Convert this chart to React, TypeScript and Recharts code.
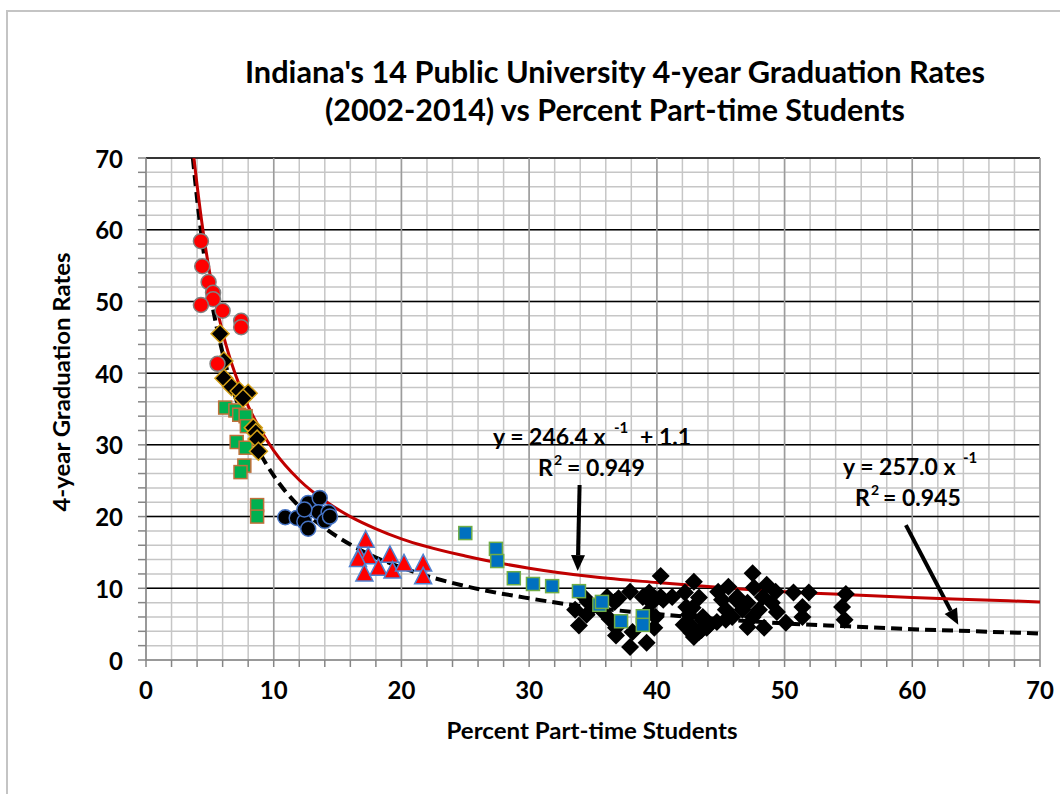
import { ScatterChart, Scatter, XAxis, YAxis, CartesianGrid, ReferenceLine } from 'recharts';

// university groups (percent part-time, 4-year grad rate)
const redCircles = [
  { x: 4.3, y: 58.4 }, { x: 4.4, y: 54.9 }, { x: 4.9, y: 52.7 }, { x: 5.25, y: 51.2 },
  { x: 5.25, y: 50.3 }, { x: 4.3, y: 49.5 }, { x: 6.0, y: 48.7 }, { x: 7.45, y: 47.3 },
  { x: 7.45, y: 46.4 }, { x: 5.6, y: 41.3 },
];
const goldDiamonds = [
  { x: 5.8, y: 45.5 }, { x: 6.1, y: 41.7 }, { x: 6.1, y: 39.3 }, { x: 6.7, y: 38.1 },
  { x: 7.3, y: 37.5 }, { x: 8.0, y: 37.2 }, { x: 7.6, y: 36.5 }, { x: 8.4, y: 32.4 },
  { x: 8.6, y: 31.7 }, { x: 8.7, y: 30.8 }, { x: 8.8, y: 29.1 },
];
const greenSquares = [
  { x: 6.2, y: 35.2 }, { x: 7.0, y: 34.8 }, { x: 7.3, y: 34.2 }, { x: 7.8, y: 34.0 },
  { x: 7.9, y: 32.6 }, { x: 7.1, y: 30.4 }, { x: 7.8, y: 29.6 }, { x: 7.7, y: 27.1 },
  { x: 7.4, y: 26.2 }, { x: 8.7, y: 21.6 }, { x: 8.7, y: 20.0 },
];
const navyCircles = [
  { x: 10.9, y: 19.9 }, { x: 11.8, y: 19.8 }, { x: 12.4, y: 19.3 }, { x: 12.7, y: 18.3 },
  { x: 12.7, y: 21.9 }, { x: 13.6, y: 22.6 }, { x: 13.5, y: 20.6 }, { x: 14.3, y: 20.6 },
  { x: 14.0, y: 19.4 }, { x: 14.4, y: 20.0 }, { x: 12.4, y: 21.0 },
];
const redTriangles = [
  { x: 17.2, y: 16.7 }, { x: 16.7, y: 14.5 }, { x: 17.4, y: 14.4 }, { x: 16.6, y: 14.0 },
  { x: 17.1, y: 12.0 }, { x: 18.2, y: 12.8 }, { x: 19.1, y: 14.6 }, { x: 19.3, y: 12.4 },
  { x: 20.2, y: 13.4 }, { x: 21.7, y: 13.4 }, { x: 21.7, y: 11.6 },
];
const blueSquares = [
  { x: 25.0, y: 17.7 }, { x: 27.4, y: 15.5 }, { x: 27.5, y: 13.8 }, { x: 28.8, y: 11.4 },
  { x: 30.3, y: 10.6 }, { x: 31.8, y: 10.3 }, { x: 33.9, y: 9.6 }, { x: 35.5, y: 7.7 },
  { x: 35.7, y: 8.1 }, { x: 37.2, y: 5.4 }, { x: 38.9, y: 6.1 }, { x: 38.9, y: 4.9 },
];
const blackDiamonds = [
  { x: 34.3, y: 8.8 }, { x: 34.6, y: 8.1 }, { x: 33.6, y: 7.0 }, { x: 34.5, y: 6.3 }, { x: 33.9, y: 4.8 },
  { x: 36.1, y: 8.8 }, { x: 36.7, y: 8.1 }, { x: 35.7, y: 6.9 }, { x: 36.3, y: 5.7 }, { x: 36.8, y: 4.5 },
  { x: 36.8, y: 3.4 }, { x: 37.9, y: 9.5 }, { x: 38.1, y: 3.9 }, { x: 37.9, y: 1.8 }, { x: 39.2, y: 2.4 },
  { x: 38.9, y: 8.8 }, { x: 39.4, y: 9.4 }, { x: 39.6, y: 8.0 }, { x: 39.3, y: 6.7 }, { x: 39.8, y: 4.5 },
  { x: 39.9, y: 6.0 }, { x: 40.3, y: 11.7 }, { x: 40.3, y: 8.8 }, { x: 41.2, y: 8.8 }, { x: 42.2, y: 9.4 },
  { x: 42.9, y: 10.9 }, { x: 42.3, y: 7.4 }, { x: 42.5, y: 6.3 }, { x: 42.1, y: 4.9 }, { x: 42.7, y: 3.8 },
  { x: 43.3, y: 8.7 }, { x: 43.6, y: 6.0 }, { x: 43.9, y: 4.5 }, { x: 43.3, y: 3.9 }, { x: 44.8, y: 9.5 },
  { x: 45.1, y: 8.4 }, { x: 45.6, y: 10.2 }, { x: 45.4, y: 7.0 }, { x: 46.2, y: 8.4 }, { x: 45.9, y: 6.0 },
  { x: 46.7, y: 7.0 }, { x: 47.5, y: 12.1 }, { x: 47.6, y: 10.1 }, { x: 48.3, y: 8.8 }, { x: 48.6, y: 10.5 },
  { x: 47.1, y: 4.6 }, { x: 48.4, y: 4.5 }, { x: 47.5, y: 6.0 }, { x: 49.3, y: 9.5 }, { x: 49.4, y: 6.7 },
  { x: 50.1, y: 5.2 }, { x: 50.7, y: 9.4 }, { x: 51.9, y: 9.4 }, { x: 51.4, y: 7.4 }, { x: 51.4, y: 6.0 },
  { x: 54.8, y: 9.2 }, { x: 54.5, y: 7.4 }, { x: 54.7, y: 5.6 }, { x: 46.3, y: 8.8 }, { x: 47.1, y: 8.0 },
  { x: 45.4, y: 5.6 }, { x: 43.6, y: 5.6 }, { x: 42.9, y: 3.2 }, { x: 43.5, y: 4.2 }, { x: 44.1, y: 4.9 },
  { x: 44.7, y: 5.3 }, { x: 42.8, y: 7.3 }, { x: 42.8, y: 4.6 }, { x: 37.0, y: 8.6 }, { x: 40.5, y: 8.4 },
  { x: 35.0, y: 7.5 }, { x: 48.0, y: 7.0 }, { x: 49.0, y: 8.0 },
];

// trend curves
const redTrend = [
  { x: 3.75, y: 70 }, { x: 4, y: 66.2 }, { x: 4.5, y: 59.4 }, { x: 5, y: 53.9 }, { x: 6, y: 45.7 },
  { x: 7, y: 39.8 }, { x: 8, y: 35.4 }, { x: 9, y: 32 }, { x: 10, y: 29.2 }, { x: 12, y: 25.1 },
  { x: 14, y: 22.2 }, { x: 16, y: 20 }, { x: 18, y: 18.3 }, { x: 20, y: 16.9 }, { x: 25, y: 14.5 },
  { x: 30, y: 12.8 }, { x: 35, y: 11.6 }, { x: 40, y: 10.8 }, { x: 45, y: 10.1 }, { x: 50, y: 9.5 },
  { x: 55, y: 9.1 }, { x: 60, y: 8.7 }, { x: 65, y: 8.4 }, { x: 70, y: 8.1 },
];
const blackTrend = [
  { x: 3.67, y: 70 }, { x: 4, y: 64.3 }, { x: 4.5, y: 57.1 }, { x: 5, y: 51.4 }, { x: 6, y: 42.8 },
  { x: 7, y: 36.7 }, { x: 8, y: 32.1 }, { x: 9, y: 28.6 }, { x: 10, y: 25.7 }, { x: 12, y: 21.4 },
  { x: 14, y: 18.4 }, { x: 16, y: 16.1 }, { x: 18, y: 14.3 }, { x: 20, y: 12.9 }, { x: 25, y: 10.3 },
  { x: 30, y: 8.6 }, { x: 35, y: 7.3 }, { x: 40, y: 6.4 }, { x: 45, y: 5.7 }, { x: 50, y: 5.1 },
  { x: 55, y: 4.7 }, { x: 60, y: 4.3 }, { x: 65, y: 4.0 }, { x: 70, y: 3.7 },
];

const minorTicks = [0, 2, 4, 6, 8, 10, 12, 14, 16, 18, 20, 22, 24, 26, 28, 30, 32, 34, 36, 38, 40, 42, 44, 46, 48, 50, 52, 54, 56, 58, 60, 62, 64, 66, 68, 70];
const majorTicks = [10, 20, 30, 40, 50, 60, 70];

const FONT = 'Lato, "Open Sans", sans-serif';

const circle = (fill: string, stroke: string) => (p: any) =>
  <circle cx={p.cx} cy={p.cy} r={7.5} fill={fill} stroke={stroke} strokeWidth={1.5} />;
const diamond = (fill: string, stroke: string) => (p: any) =>
  <path d={`M${p.cx},${p.cy - 9}L${p.cx + 9},${p.cy}L${p.cx},${p.cy + 9}L${p.cx - 9},${p.cy}Z`} fill={fill} stroke={stroke} strokeWidth={1.5} />;
const square = (fill: string, stroke: string) => (p: any) =>
  <rect x={p.cx - 6.5} y={p.cy - 6.5} width={13} height={13} fill={fill} stroke={stroke} strokeWidth={1.5} />;
const triangle = (fill: string, stroke: string) => (p: any) =>
  <path d={`M${p.cx},${p.cy - 9.5}L${p.cx + 8.5},${p.cy + 7}L${p.cx - 8.5},${p.cy + 7}Z`} fill={fill} stroke={stroke} strokeWidth={1.5} />;
const noDot = () => <g />;

const arrow = (p: any) => {
  const { x1, y1, x2, y2 } = p;
  const a = Math.atan2(y2 - y1, x2 - x1);
  const L = 16, W = 7;
  const bx = x2 - L * Math.cos(a), by = y2 - L * Math.sin(a);
  const nx = -Math.sin(a) * W, ny = Math.cos(a) * W;
  return (
    <g>
      <line x1={x1} y1={y1} x2={bx} y2={by} stroke="#000" strokeWidth={4} />
      <path d={`M${x2},${y2}L${bx + nx},${by + ny}L${bx - nx},${by - ny}Z`} fill="#000" />
    </g>
  );
};

const YTick = (p: any) => {
  const v = p.payload.value;
  if (v % 10 !== 0) return <g />;
  return (
    <text x={p.x} y={p.y} textAnchor="end" dominantBaseline="central" fontFamily={FONT} fontWeight={700} fontSize={24} fill="#000">
      {v}
    </text>
  );
};
const XTick = (p: any) => {
  const v = p.payload.value;
  if (v % 10 !== 0) return <g />;
  return (
    <text x={p.x} y={p.y} textAnchor="middle" dominantBaseline="central" fontFamily={FONT} fontWeight={700} fontSize={24} fill="#000">
      {v}
    </text>
  );
};

export default function App() {
  return (
    <div style={{ position: 'absolute', left: 0, top: 0, width: 1060, height: 794, overflow: 'hidden', background: '#fff' }}>
      <div style={{ position: 'absolute', left: 6, top: 10, width: 1100, height: 820, border: '2px solid #c4c4c4' }} />
      <div style={{ position: 'absolute', left: 0, top: 0 }}>
        <ScatterChart width={1060} height={794} margin={{ top: 158, right: 20, left: 0, bottom: 0 }}>
          <CartesianGrid horizontalValues={minorTicks} verticalValues={minorTicks} stroke="#c6c6c6" strokeWidth={1.5} />
          <CartesianGrid horizontalValues={majorTicks} vertical={false} stroke="#000" strokeWidth={1.5} />
          <CartesianGrid verticalValues={majorTicks} horizontal={false} stroke="#9c9c9c" strokeWidth={1.5} />
          <XAxis
            type="number" dataKey="x" domain={[0, 70]} ticks={minorTicks} interval={0}
            height={134} tickSize={7} tickMargin={22} tick={<XTick />}
            stroke="#868686" strokeWidth={1.5} allowDataOverflow
          />
          <YAxis
            type="number" dataKey="y" domain={[0, 70]} ticks={minorTicks} interval={0}
            width={146} tickSize={8} tickMargin={15} tick={<YTick />}
            stroke="#868686" strokeWidth={1.5} allowDataOverflow
          />
          <Scatter data={blackTrend} line={{ stroke: '#000', strokeWidth: 4, strokeDasharray: '11 6' }} lineJointType="monotoneX" shape={noDot} isAnimationActive={false} />
          <Scatter data={redTrend} line={{ stroke: '#c00000', strokeWidth: 3 }} lineJointType="monotoneX" shape={noDot} isAnimationActive={false} />
          <Scatter data={blackDiamonds} shape={diamond('#000', 'none')} isAnimationActive={false} />
          <Scatter data={blueSquares} shape={square('#0070c0', '#70ad47')} isAnimationActive={false} />
          <Scatter data={redTriangles} shape={triangle('#ff0000', '#4f81d0')} isAnimationActive={false} />
          <Scatter data={navyCircles} shape={circle('#000', '#4472c4')} isAnimationActive={false} />
          <Scatter data={greenSquares} shape={square('#00b050', '#c0703a')} isAnimationActive={false} />
          <Scatter data={goldDiamonds} shape={diamond('#000', '#d4a017')} isAnimationActive={false} />
          <Scatter data={redCircles} shape={circle('#ff0000', '#808080')} isAnimationActive={false} />
          <ReferenceLine segment={[{ x: 33.95, y: 24.4 }, { x: 33.8, y: 12.4 }]} shape={arrow} ifOverflow="visible" />
          <ReferenceLine segment={[{ x: 59.5, y: 18.8 }, { x: 63.6, y: 4.9 }]} shape={arrow} ifOverflow="visible" />
        </ScatterChart>
      </div>
      <svg width={1060} height={794} style={{ position: 'absolute', left: 0, top: 0, pointerEvents: 'none' }} fontFamily={FONT} fontWeight={700} fill="#000">
        <text x={615} y={83} textAnchor="middle" fontSize={31} textLength={740} lengthAdjust="spacingAndGlyphs">
          Indiana's 14 Public University 4-year Graduation Rates
        </text>
        <text x={615} y={121} textAnchor="middle" fontSize={31} textLength={580} lengthAdjust="spacingAndGlyphs">
          (2002-2014)  vs Percent Part-time Students
        </text>
        <text x={592} y={739} textAnchor="middle" fontSize={23} textLength={291} lengthAdjust="spacingAndGlyphs">
          Percent Part-time Students
        </text>
        <text transform="translate(70,382) rotate(-90)" textAnchor="middle" fontSize={23} textLength={259} lengthAdjust="spacingAndGlyphs">
          4-year Graduation Rates
        </text>

        <text x={493} y={445} fontSize={23}>y = 246.4 x</text>
        <text x={614} y={433} fontSize={15}>-1</text>
        <text x={640} y={445} fontSize={23}>+ 1.1</text>
        <text x={538} y={476} fontSize={23}>R</text>
        <text x={554} y={465} fontSize={14}>2</text>
        <text x={567} y={476} fontSize={23}>= 0.949</text>

        <text x={843} y={475} fontSize={23}>y = 257.0 x</text>
        <text x={963} y={463} fontSize={15}>-1</text>
        <text x={855} y={506} fontSize={23}>R</text>
        <text x={871} y={495} fontSize={14}>2</text>
        <text x={883} y={506} fontSize={23}>= 0.945</text>
      </svg>
    </div>
  );
}
